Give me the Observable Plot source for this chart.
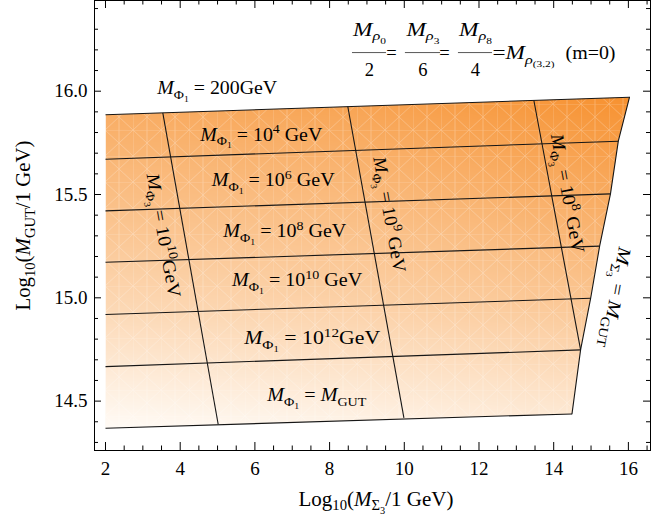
<!DOCTYPE html>
<html><head><meta charset="utf-8">
<script src="https://cdn.jsdelivr.net/npm/d3@7"></script>
<script src="https://cdn.jsdelivr.net/npm/@observablehq/plot@0.6"></script>
<style>body{margin:0;background:#fff} svg{display:block}</style>
</head><body><div id="chart"></div>
<script>
// ---------- data ----------
// M_Phi1 contour lines: start at x = 2, end on the M_Sigma3 = M_GUT boundary
const phi1Names   = ["200GeV", "10^{4} GeV", "10^{6} GeV", "10^{8} GeV", "10^{10} GeV", "10^{12}GeV", "M_{GUT}"];
const phi1LeftX   = 2;
const phi1LeftY   = [15.886, 15.671, 15.421, 15.172, 14.919, 14.667, 14.369];
const phi1RightX  = [16.03, 15.73, 15.52, 15.23, 14.99, 14.72, 14.49];
const phi1RightY  = [15.971, 15.758, 15.503, 15.250, 14.998, 14.748, 14.438];
// M_Phi3 contour lines
const phi3Names   = ["10^{10}GeV", "10^{9} GeV", "10^{8} GeV"];
const phi3TopX    = [3.534, 8.487, 13.47];
const phi3TopY    = [15.895, 15.926, 15.955];
const phi3BotX    = [5.017, 9.99, 14.72];
const phi3BotY    = [14.388, 14.419, 14.748];
// shading intensity samples (0 = white, 1 = deep orange)
const shadeX = [2, 9, 16.03, 2, 9, 15.52, 2, 9, 14.99, 2, 8, 14.49];
const shadeY = [15.886, 15.93, 15.971, 15.42, 15.46, 15.503, 14.92, 14.96, 14.998, 14.369, 14.40, 14.438];
const shadeV = [0.70, 0.79, 0.96, 0.52, 0.58, 0.73, 0.30, 0.38, 0.49, 0.0, 0.07, 0.17];
// ticks
const xTicksMajor = [2, 4, 6, 8, 10, 12, 14, 16];
const xTicksMinor = [2.5, 3, 3.5, 4.5, 5, 5.5, 6.5, 7, 7.5, 8.5, 9, 9.5, 10.5, 11, 11.5, 12.5, 13, 13.5, 14.5, 15, 15.5, 16.5];
const yTicksMajor = [14.5, 15.0, 15.5, 16.0];
const yTicksMinor = [14.3, 14.4, 14.6, 14.7, 14.8, 14.9, 15.1, 15.2, 15.3, 15.4, 15.6, 15.7, 15.8, 15.9, 16.1, 16.2, 16.3, 16.4];
// texts
const xLabel = "Log_{10}(M_{Σ_{3}}/1 GeV)";
const yLabel = "Log_{10}(M_{GUT}/1 GeV)";
const sigmaLabel = "M_{Σ_{3}} = M_{GUT}";
const fracNums = ["M_{ρ_{0}}", "M_{ρ_{3}}", "M_{ρ_{8}}"];
const fracDens = ["2", "6", "4"];
const rhsText = "=M_{ρ_{(3,2)}}";
const modeText = "(m=0)";

// ---------- annotation placement (positions, rendered widths in px) ----------
const phi1LabelPos = [[4.99, 16.013, 120], [6.171, 15.79, 122], [6.49, 15.568, 123], [6.80, 15.321, 123], [7.13, 15.084, 130], [7.534, 14.803, 136], [7.657, 14.527, 99]];
const phi3LabelPos = [[3.553, 15.302, 79.8, 126], [9.604, 15.403, 79.8, 117], [14.37, 15.505, 79.5, 121]];
const sigmaLabelPos = [15.66, 15.001, 100.2, 102];
const fracX = [9.068, 10.499, 11.905];
const fracNumWidth = 33;
const fracBars = [[8.613, 9.523], [10.03, 10.97], [11.45, 12.36]];
const rhsWidth = 62, modeWidth = 50, xLabelWidth = 155, yLabelWidth = 170;

// ---------- tables ----------
const phi1Table = phi1Names.map((n, i) => ({n, x1: phi1LeftX, y1: phi1LeftY[i], x2: phi1RightX[i], y2: phi1RightY[i]}));
const phi3Table = phi3Names.map((n, i) => ({n, x1: phi3TopX[i], y1: phi3TopY[i], x2: phi3BotX[i], y2: phi3BotY[i]}));
const boundary = phi1RightX.map((x, i) => ({x, y: phi1RightY[i]}));
const region = [[phi1LeftX, phi1LeftY[0]], ...phi1RightX.map((x, i) => [x, phi1RightY[i]]), [phi1LeftX, phi1LeftY[phi1LeftY.length - 1]]];
const shade = shadeX.map((x, i) => ({x, y: shadeY[i], v: shadeV[i]}));

const W = 652, H = 524, mL = 94, mR = 2, mT = 0, mB = 74;
const fw = W - mL - mR, fh = H - mT - mB;
const ink = "#161616";
const LBL = 18.5;

// text string -> target rendered width
const widths = new Map();
phi1Names.forEach((n, i) => widths.set("M_{Φ_{1}} = " + n, phi1LabelPos[i][2]));
phi3Names.forEach((n, i) => widths.set("M_{Φ_{3}} = " + n, phi3LabelPos[i][3]));
widths.set(sigmaLabel, sigmaLabelPos[3]);
fracNums.forEach(n => widths.set(n, fracNumWidth));
widths.set(rhsText, rhsWidth);
widths.set(modeText, modeWidth);
widths.set(xLabel, xLabelWidth);
widths.set(yLabel, yLabelWidth);

const plot = Plot.plot({
  width: W, height: H,
  marginLeft: mL, marginRight: mR, marginTop: mT, marginBottom: mB,
  style: {fontFamily: "'Liberation Serif', 'DejaVu Serif', serif", background: "white", color: "black"},
  x: {domain: [1.7055, 16.592]},
  y: {domain: [14.261, 16.439]},
  color: {type: "linear", domain: [0, 1], range: ["#fffbf6", "#f68d28"], interpolate: "rgb"},
  marks: [
    Plot.raster(shade, {x: "x", y: "y", fill: "v", interpolate: "barycentric"}),
    Plot.link(phi1Table, {x1: "x1", y1: "y1", x2: "x2", y2: "y2", stroke: ink, strokeWidth: 1.1}),
    Plot.line(boundary, {x: "x", y: "y", stroke: ink, strokeWidth: 1.1}),
    Plot.link(phi3Table, {x1: "x1", y1: "y1", x2: "x2", y2: "y2", stroke: ink, strokeWidth: 1.1}),
    // frame ticks (inward)
    Plot.tickX(xTicksMajor, {x: d => d, insetTop: fh - 8, stroke: "black"}),
    Plot.tickX(xTicksMinor, {x: d => d, insetTop: fh - 4.5, stroke: "black"}),
    Plot.tickX(xTicksMajor, {x: d => d, insetBottom: fh - 8, stroke: "black"}),
    Plot.tickX(xTicksMinor, {x: d => d, insetBottom: fh - 4.5, stroke: "black"}),
    Plot.tickY(yTicksMajor, {y: d => d, insetRight: fw - 7, stroke: "black"}),
    Plot.tickY(yTicksMinor, {y: d => d, insetRight: fw - 4, stroke: "black"}),
    Plot.tickY(yTicksMajor, {y: d => d, insetLeft: fw - 7, stroke: "black"}),
    Plot.tickY(yTicksMinor, {y: d => d, insetLeft: fw - 4, stroke: "black"}),
    Plot.frame({stroke: "black", strokeWidth: 1}),
    Plot.axisX(xTicksMajor, {anchor: "bottom", tickSize: 0, tickPadding: 11, fontSize: 19, tickFormat: d => String(d), label: null}),
    Plot.axisY(yTicksMajor, {anchor: "left", tickSize: 0, tickPadding: 7, fontSize: 19, tickFormat: d3.format(".1f"), label: null}),
    // labels
    Plot.text(phi1Names, {x: (d, i) => phi1LabelPos[i][0], y: (d, i) => phi1LabelPos[i][1], text: d => "M_{Φ_{1}} = " + d, fontSize: LBL}),
    Plot.text(phi3Names, {x: (d, i) => phi3LabelPos[i][0], y: (d, i) => phi3LabelPos[i][1], rotate: (d, i) => phi3LabelPos[i][2], text: d => "M_{Φ_{3}} = " + d, fontSize: LBL}),
    Plot.text([sigmaLabel], {x: sigmaLabelPos[0], y: sigmaLabelPos[1], rotate: sigmaLabelPos[2], text: d => d, fontSize: LBL}),
    Plot.text(fracNums, {x: (d, i) => fracX[i], y: 16.296, text: d => d, fontSize: LBL}),
    Plot.text(fracDens, {x: (d, i) => fracX[i], y: 16.102, text: d => d, fontSize: LBL}),
    Plot.ruleY(fracBars, {x1: d => d[0], x2: d => d[1], y: 16.187, stroke: "#444", strokeWidth: 0.9}),
    Plot.text(["=", "="], {x: (d, i) => [9.657, 11.076][i], y: 16.184, text: d => d, fontSize: LBL}),
    Plot.text([rhsText], {x: 12.361, y: 16.184, text: d => d, textAnchor: "start", fontSize: LBL}),
    Plot.text([modeText], {x: 14.316, y: 16.184, text: d => d, textAnchor: "start", fontSize: LBL}),
    Plot.text([xLabel], {frameAnchor: "bottom", dx: 3.5, dy: 55, textAnchor: "middle", text: d => d, fontSize: 20}),
    Plot.text([yLabel], {frameAnchor: "left", dx: -71, dy: 0, rotate: -90, textAnchor: "middle", text: d => d, fontSize: 20})
  ]
});

document.getElementById("chart").appendChild(plot);

// ---------- rich text (italic M / rho, sub- and superscripts) ----------
const NS = "http://www.w3.org/2000/svg";
function runs(str) {
  const out = [];
  const stack = [{scale: 1, shift: 0}];
  let buf = "", bufIt = false;
  const flush = () => {
    if (buf) { const t = stack[stack.length - 1]; out.push({text: buf, italic: bufIt, scale: t.scale, shift: t.shift}); }
    buf = "";
  };
  for (let i = 0; i < str.length; i++) {
    const c = str[i];
    if ((c === "_" || c === "^") && str[i + 1] === "{") {
      flush();
      const t = stack[stack.length - 1];
      stack.push({scale: t.scale * 0.7, shift: t.shift + (c === "_" ? 0.24 * t.scale : -0.42 * t.scale)});
      i++;
      continue;
    }
    if (c === "}") { flush(); stack.pop(); continue; }
    const it = (c === "M" || c === "ρ");
    if (buf && it !== bufIt) flush();
    buf += c; bufIt = it;
  }
  flush();
  return out;
}
function setRich(el, str, size) {
  while (el.firstChild) el.removeChild(el.firstChild);
  let prev = 0;
  for (const r of runs(str)) {
    const t = document.createElementNS(NS, "tspan");
    t.setAttribute("font-size", (size * r.scale).toFixed(2));
    if (r.italic) t.setAttribute("font-style", "italic");
    const d = (r.shift - prev) * size;
    if (Math.abs(d) > 1e-6) t.setAttribute("dy", d.toFixed(2));
    prev = r.shift;
    t.textContent = r.text;
    el.appendChild(t);
  }
}
plot.querySelectorAll("text").forEach(el => {
  const s = el.textContent;
  if (s.includes("_{") || s.includes("^{") || s.includes("M")) {
    const size = parseFloat(getComputedStyle(el).fontSize) || LBL;
    setRich(el, s, size);
  }
  if (widths.has(s)) {
    el.setAttribute("textLength", widths.get(s));
    el.setAttribute("lengthAdjust", "spacingAndGlyphs");
  }
});

// ---------- clip the shading to the allowed region, add faint mesh ----------
const sx = plot.scale("x"), sy = plot.scale("y");
const regionD = "M" + region.map(([x, y]) => sx.apply(x).toFixed(2) + "," + sy.apply(y).toFixed(2)).join("L") + "Z";
const defs = document.createElementNS(NS, "defs");
defs.innerHTML =
  `<clipPath id="regionClip"><path d="${regionD}"/></clipPath>` +
  `<pattern id="mesh" patternUnits="userSpaceOnUse" x="105" y="0" width="28" height="26">` +
  `<path d="M0,0V26M0,0H28M0,0L28,26M28,0L0,26M14,0V26" stroke="#ffffff" stroke-width="0.8" fill="none"/></pattern>`;
plot.insertBefore(defs, plot.firstChild);
const rg = plot.querySelector('g[aria-label="raster"]');
if (rg) {
  rg.setAttribute("clip-path", "url(#regionClip)");
  const mesh = document.createElementNS(NS, "path");
  mesh.setAttribute("d", regionD);
  mesh.setAttribute("fill", "url(#mesh)");
  mesh.setAttribute("fill-opacity", "0.3");
  rg.parentNode.insertBefore(mesh, rg.nextSibling);
}
</script>
</body></html>
